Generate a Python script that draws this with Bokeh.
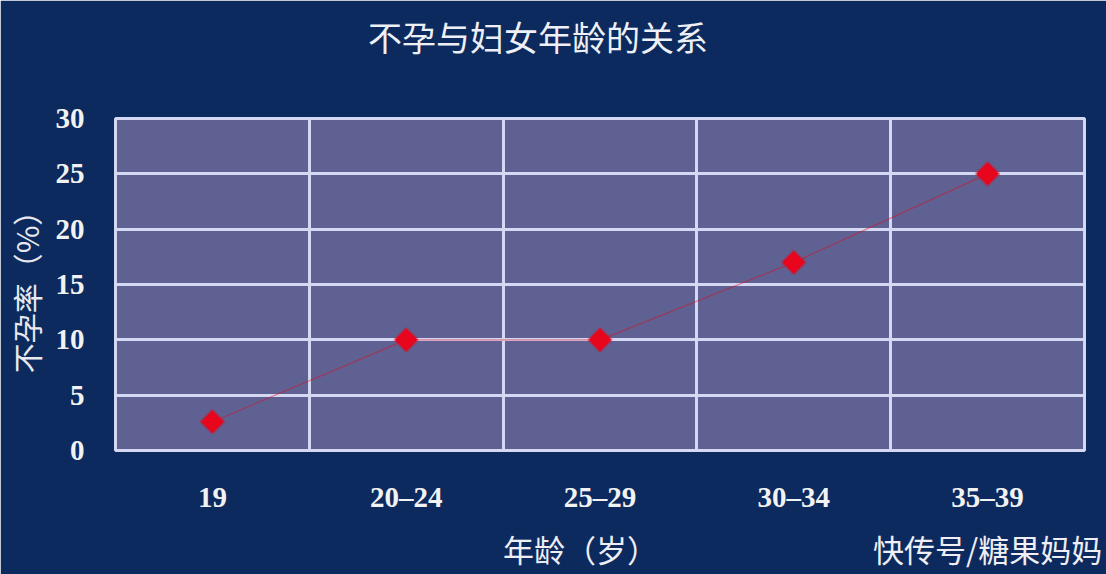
import math
from bokeh.plotting import figure
from bokeh.models import FixedTicker, LinearAxis
from bokeh.embed import file_html
from bokeh.resources import INLINE

categories = ["19", "20–24", "25–29", "30–34", "35–39"]
rates = [2.6, 10, 10, 17, 25]
y_ticks = [0, 5, 10, 15, 20, 25, 30]
title_text = "不孕与妇女年龄的关系"
x_label = "年龄（岁）"
y_label = "不孕率（%）"
watermark = "快传号/糖果妈妈"

BG = "#0c2a5e"
PLOT_BG = "#5e6191"
GRID = "#d4d8f2"
RED = "#e8061c"

x_pos = list(range(len(categories)))

p = figure(x_range=(-0.5, len(categories) - 0.5), y_range=(0, 30),
           width=1106, height=574,
           output_backend="svg", toolbar_location=None,
           background_fill_color=PLOT_BG, border_fill_color=BG,
           min_border_left=115, min_border_right=22,
           min_border_top=118, min_border_bottom=124)
p.outline_line_color = GRID
p.outline_line_width = 3

p.ygrid.ticker = FixedTicker(ticks=y_ticks)
p.ygrid.grid_line_color = GRID
p.ygrid.grid_line_width = 3
p.xgrid.ticker = FixedTicker(ticks=[i + 0.5 for i in x_pos[:-1]])
p.xgrid.grid_line_color = GRID
p.xgrid.grid_line_width = 3

p.line(x_pos, rates, line_color=RED, line_width=1.2, line_alpha=0.45)
p.scatter(x_pos, rates, marker="square", angle=math.pi / 4, size=16,
          fill_color=RED, line_color=RED, line_alpha=0.4, line_width=3)

xa = p.xaxis[0]
xa.ticker = FixedTicker(ticks=x_pos)
xa.major_label_overrides = {i: c for i, c in zip(x_pos, categories)}

# chart title, drawn as the single label of an axis above the frame
title_axis = LinearAxis(ticker=FixedTicker(ticks=[1.68]),
                        major_label_overrides={1.68: title_text})
p.add_layout(title_axis, "above")

# second axis below: x-axis title and watermark share one row
row_axis = LinearAxis(ticker=FixedTicker(ticks=[1.90, 4.00]),
                      major_label_overrides={1.90: x_label, 4.00: watermark})
p.add_layout(row_axis, "below")

for ax in (xa, p.yaxis[0], row_axis, title_axis):
    ax.axis_line_color = None
    ax.major_tick_line_color = None
    ax.minor_tick_line_color = None
    ax.major_label_text_color = "#f2f2f2"
    ax.major_label_text_font = "Liberation Serif"
    ax.major_label_text_font_style = "bold"
    ax.major_label_text_font_size = "29px"
    ax.axis_label_text_color = "#e8e8ee"
    ax.axis_label_text_font = "Noto Sans CJK SC"
    ax.axis_label_text_font_style = "normal"

title_axis.major_label_text_font = "Noto Sans CJK SC"
title_axis.major_label_text_font_style = "normal"
title_axis.major_label_text_font_size = "34px"
title_axis.major_label_text_color = "#eef0f6"
title_axis.major_label_standoff = 52

row_axis.major_label_text_font = "Noto Sans CJK SC"
row_axis.major_label_text_font_style = "normal"
row_axis.major_label_text_font_size = "31px"
row_axis.major_label_text_color = "#eeeef4"
row_axis.major_label_standoff = 4

p.yaxis[0].ticker = FixedTicker(ticks=y_ticks)
p.yaxis[0].major_label_standoff = 25
p.yaxis[0].axis_label = y_label
p.yaxis[0].axis_label_text_font_size = "30px"
p.yaxis[0].axis_label_standoff = 5

xa.major_label_standoff = 24

open("out.html", "w").write(file_html(p, INLINE))
